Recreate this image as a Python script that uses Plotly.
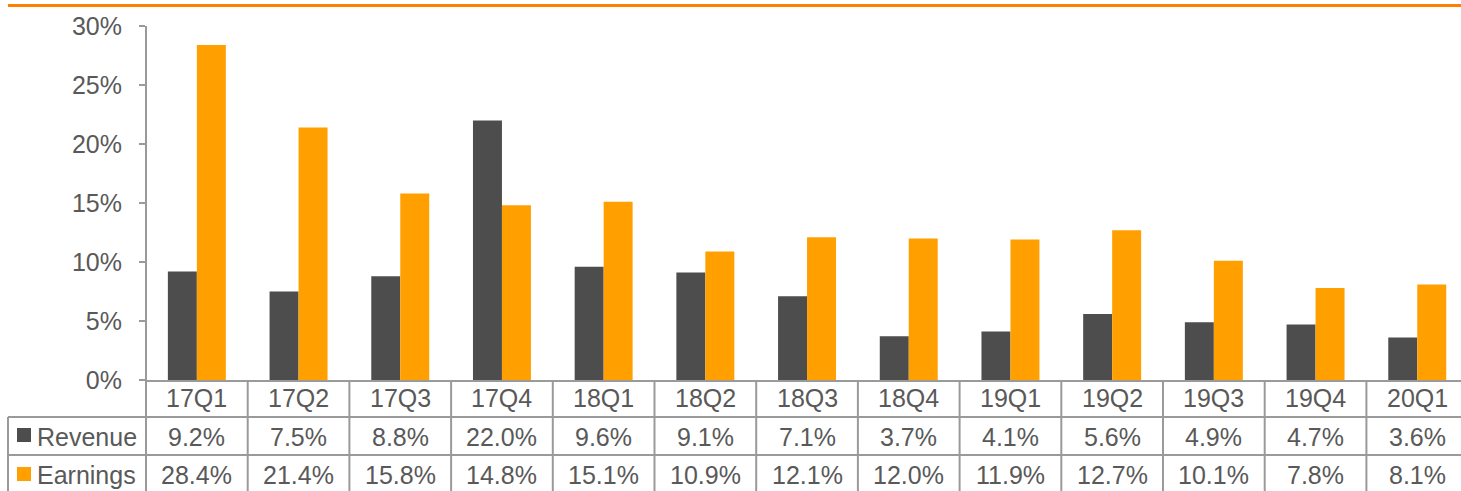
import plotly.graph_objects as go

categories = ["17Q1", "17Q2", "17Q3", "17Q4", "18Q1", "18Q2", "18Q3",
              "18Q4", "19Q1", "19Q2", "19Q3", "19Q4", "20Q1"]
revenue = [9.2, 7.5, 8.8, 22.0, 9.6, 9.1, 7.1, 3.7, 4.1, 5.6, 4.9, 4.7, 3.6]
earnings = [28.4, 21.4, 15.8, 14.8, 15.1, 10.9, 12.1, 12.0, 11.9, 12.7, 10.1, 7.8, 8.1]
y_ticks = [0, 5, 10, 15, 20, 25, 30]
series_names = ["Revenue", "Earnings"]
series_colors = ["#4d4d4d", "#ffa000"]

W, H = 1461, 491
L, T, B = 146, 26, 380          # plot area pixel edges
PW, PH = W - L, B - T
CAT_W = 101.7                    # category width in px
TXT = "#595959"
GRID = "#9a9a9a"
FONT = "Liberation Sans, Arial, sans-serif"


def px(xp):
    return (xp - L) / PW


def py(yp):
    return (B - yp) / PH


fig = go.Figure()
for name, vals, col in zip(series_names, [revenue, earnings], series_colors):
    fig.add_trace(go.Bar(x=list(range(len(categories))), y=vals, name=name,
                         marker=dict(color=col, line=dict(width=0))))

n = len(categories)
x_end = -0.5 + PW / CAT_W

shapes = []
annotations = []
row_top, row1, row2, row_bot = 380, 417, 455, 495
for i in range(1, n + 1):
    shapes.append(dict(type="line", xref="x", yref="paper", x0=i - 0.5, x1=i - 0.5,
                       y0=py(row_top), y1=py(row_bot), line=dict(color=GRID, width=2)))
shapes.append(dict(type="line", xref="paper", yref="paper", x0=0, x1=0,
                   y0=1, y1=py(row_bot), line=dict(color=GRID, width=2)))
for yb in [row1, row2]:
    shapes.append(dict(type="line", xref="paper", yref="paper", x0=px(8), x1=1,
                       y0=py(yb), y1=py(yb), line=dict(color=GRID, width=2)))
shapes.append(dict(type="line", xref="paper", yref="paper", x0=px(8), x1=px(8),
                   y0=py(row1), y1=py(row_bot), line=dict(color=GRID, width=2)))
shapes.append(dict(type="line", xref="paper", yref="paper", x0=px(8), x1=1,
                   y0=py(5.5), y1=py(5.5), line=dict(color="#ff8000", width=3)))
for (yc, col) in zip([435, 474], series_colors):
    shapes.append(dict(type="rect", xref="paper", yref="paper",
                       x0=px(17), x1=px(31), y0=py(yc - 7), y1=py(yc + 7),
                       fillcolor=col, line=dict(width=0)))

row_centers = [398, 437, 475]
for i, c in enumerate(categories):
    annotations.append(dict(x=i, y=py(row_centers[0]), xref="x", yref="paper",
                            text=c, showarrow=False, yanchor="middle",
                            font=dict(size=25, color=TXT, family=FONT)))
    annotations.append(dict(x=i, y=py(row_centers[1]), xref="x", yref="paper",
                            text=f"{revenue[i]:.1f}%", showarrow=False, yanchor="middle",
                            font=dict(size=25, color=TXT, family=FONT)))
    annotations.append(dict(x=i, y=py(row_centers[2]), xref="x", yref="paper",
                            text=f"{earnings[i]:.1f}%", showarrow=False, yanchor="middle",
                            font=dict(size=25, color=TXT, family=FONT)))
for name, yc in zip(series_names, row_centers[1:]):
    annotations.append(dict(x=px(35), y=py(yc), xref="paper", yref="paper",
                            text=name, showarrow=False, xanchor="left", yanchor="middle",
                            font=dict(size=25, color=TXT, family=FONT)))

fig.update_layout(
    width=W, height=H,
    margin=dict(l=L, r=0, t=T, b=H - B, pad=0),
    paper_bgcolor="white", plot_bgcolor="white",
    showlegend=False,
    barmode="group", bargap=0.43, bargroupgap=0,
    font=dict(family=FONT, color=TXT),
    shapes=shapes, annotations=annotations,
    xaxis=dict(range=[-0.5, x_end], showticklabels=False, showgrid=False,
               zeroline=False, showline=True, linecolor=GRID, linewidth=2,
               ticks="", fixedrange=True),
    yaxis=dict(range=[0, 30], tickvals=y_ticks,
               ticktext=[f"{v}%" for v in y_ticks], showgrid=False,
               zeroline=False, showline=False, ticks="outside", ticklen=6,
               tickwidth=2, tickcolor=GRID, ticklabelstandoff=12,
               tickfont=dict(size=25, color=TXT, family=FONT)),
)

fig.write_html("out.html", config={"displayModeBar": False},
               post_script="document.body.style.margin='0px';document.body.style.overflow='hidden';")
